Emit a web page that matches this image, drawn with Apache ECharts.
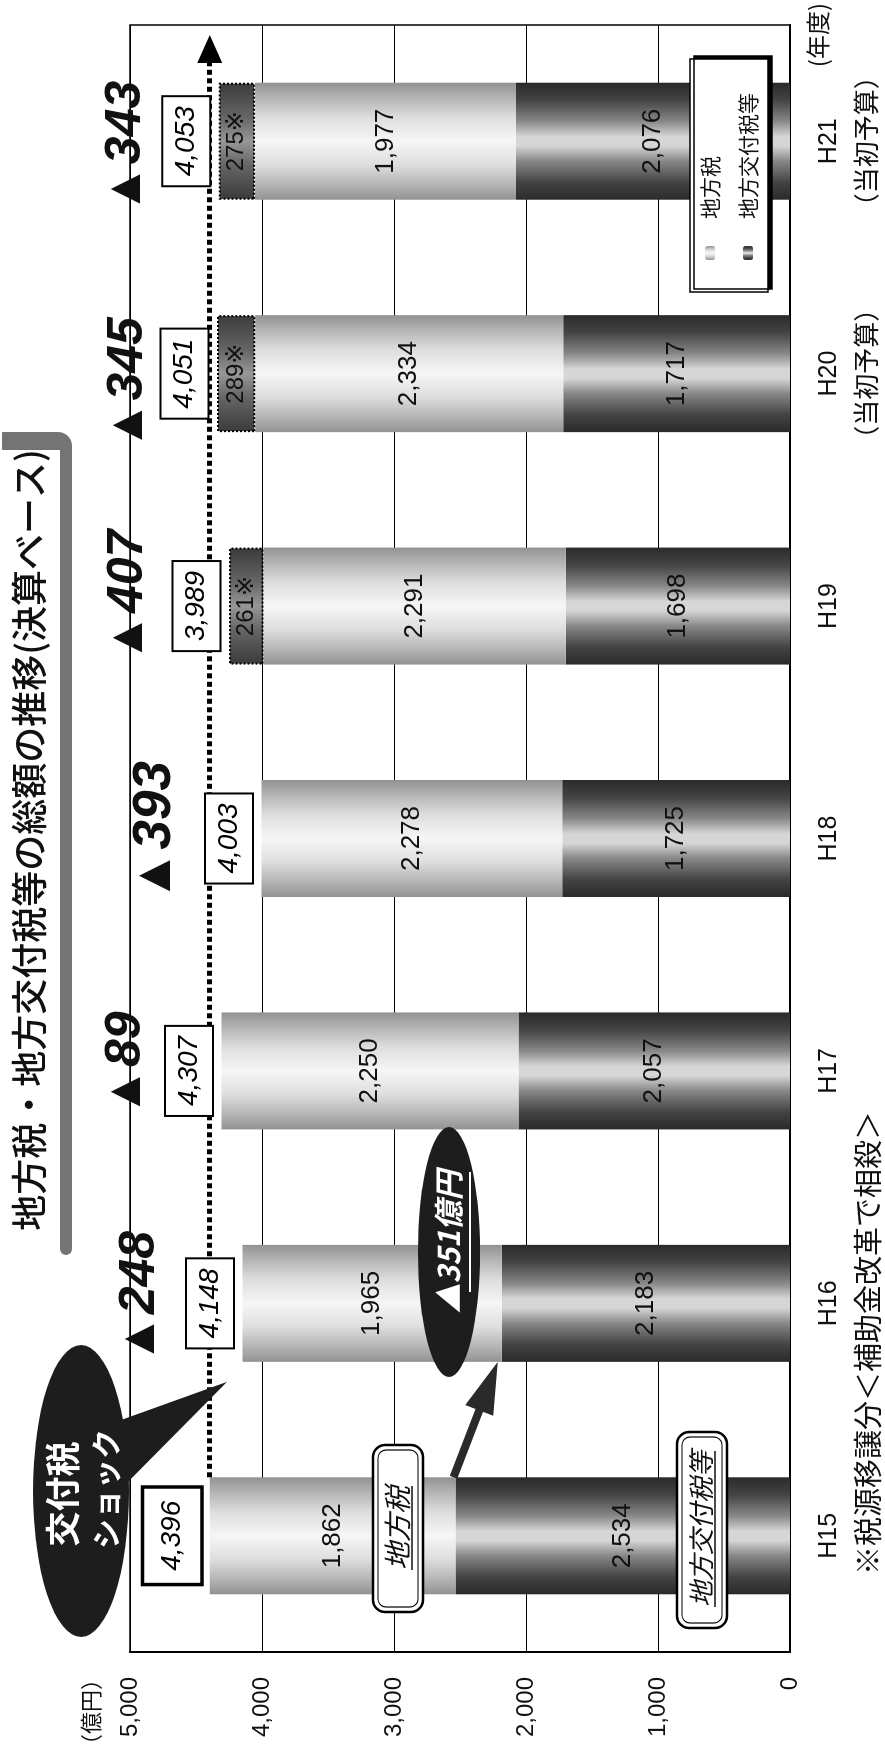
<!DOCTYPE html>
<html>
<head>
<meta charset="utf-8">
<script src="https://cdn.jsdelivr.net/npm/echarts@6/dist/echarts.min.js"></script>
<style>
  html, body { margin: 0; padding: 0; width: 885px; height: 1762px; overflow: hidden; background: #fff; }
  /* the chart is laid out landscape and turned a quarter turn counter-clockwise */
  #chart { position: absolute; left: 0; top: 0; width: 1762px; height: 885px;
           transform-origin: 0 0; transform: translateY(1762px) rotate(-90deg); }
</style>
</head>
<body>
<div id="chart"></div>
<script>
// 地方税・地方交付税等の総額の推移（億円）
const years      = ['H15', 'H16', 'H17', 'H18', 'H19', 'H20', 'H21'];
const yearNotes  = ['', '', '', '', '', '（当初予算）', '（当初予算）'];
const kofuzei    = [2534, 2183, 2057, 1725, 1698, 1717, 2076];   // 地方交付税等
const chihozei   = [1862, 1965, 2250, 2278, 2291, 2334, 1977];   // 地方税
const ijobun     = [null, null, null, null, 261, 289, 275];      // ※税源移譲分
const totals     = [4396, 4148, 4307, 4003, 3989, 4051, 4053];   // 地方税＋地方交付税等
const decrease   = [null, 248, 89, 393, 407, 345, 343];          // H15比の減少額
const shockCut   = 351;                                          // 交付税ショック

const JP  = '"Noto Sans CJK JP", "Noto Sans", sans-serif';
const NUM = '"Liberation Sans", Arial, "DejaVu Sans", sans-serif';
const fmt = n => String(n).replace(/\B(?=(\d{3})+(?!\d))/g, ',');

const band = stops => ({
  type: 'linear', x: 0, y: 0, x2: 1, y2: 0,
  colorStops: stops.map(([offset, color]) => ({ offset, color }))
});
const lightFill = band([[0, '#929292'], [0.12, '#b2b2b2'], [0.3, '#dedede'], [0.5, '#f6f6f6'],
                        [0.7, '#dedede'], [0.88, '#b2b2b2'], [1, '#929292']]);
const darkFill  = band([[0, '#2a2a2a'], [0.15, '#444'], [0.33, '#888'], [0.46, '#d6d6d6'],
                        [0.54, '#d6d6d6'], [0.67, '#888'], [0.85, '#444'], [1, '#2a2a2a']]);
const transFill = band([[0, '#3a3a3a'], [0.3, '#666'], [0.5, '#979797'], [0.7, '#666'], [1, '#3a3a3a']]);

const BAR_W = 117;
const GRID = { left: 110, right: 25, top: 130, bottom: 95 };
const segLabel = { show: true, position: 'inside', fontSize: 26, fontFamily: NUM, color: '#111',
                   formatter: p => fmt(p.value) };

const chart = echarts.init(document.getElementById('chart'), null, { renderer: 'canvas' });

const stackTop = years.map((_, i) => kofuzei[i] + chihozei[i] + (ijobun[i] || 0));

chart.setOption({
  animation: false,
  backgroundColor: '#fff',
  grid: Object.assign({ show: true, borderColor: '#000', borderWidth: 1.5, backgroundColor: '#fff' }, GRID),
  legend: {
    data: ['地方税', '地方交付税等'],
    orient: 'vertical', left: 1470, top: 690,
    padding: [8, 34, 8, 32], itemGap: 14, itemWidth: 14, itemHeight: 10,
    backgroundColor: '#fff', borderColor: '#000', borderWidth: 1.5,
    shadowColor: '#000', shadowOffsetX: 3, shadowOffsetY: 4, shadowBlur: 0,
    textStyle: { fontSize: 21, lineHeight: 24, fontFamily: JP, color: '#111', padding: [0, 0, 0, 22] }
  },
  xAxis: {
    type: 'category', data: years,
    axisLine: { lineStyle: { color: '#000', width: 2 } },
    axisTick: { inside: true, length: 7, lineStyle: { color: '#000', width: 1.5 } },
    axisLabel: {
      interval: 0, margin: 21, fontFamily: NUM,
      formatter: (v, i) => yearNotes[i] ? `{a|${v}}\n{b|${yearNotes[i]}}` : `{a|${v}}`,
      rich: {
        a: { fontSize: 25, lineHeight: 36, fontFamily: NUM, color: '#111' },
        b: { fontSize: 26, lineHeight: 38, fontFamily: JP, color: '#111' }
      }
    }
  },
  yAxis: {
    type: 'value', min: 0, max: 5000, interval: 1000,
    axisLine: { show: true, lineStyle: { color: '#000', width: 2 } },
    axisTick: { show: false },
    splitLine: { lineStyle: { color: '#000', width: 1 } },
    axisLabel: { margin: 25, fontSize: 24, fontFamily: NUM, color: '#111', formatter: v => fmt(v) }
  },
  series: [
    { name: '地方交付税等', type: 'bar', stack: 'total', barWidth: BAR_W, data: kofuzei,
      itemStyle: { color: darkFill }, label: segLabel },
    { name: '地方税', type: 'bar', stack: 'total', barWidth: BAR_W, data: chihozei,
      itemStyle: { color: lightFill }, label: segLabel },
    { name: '※税源移譲分', type: 'bar', stack: 'total', barWidth: BAR_W, data: ijobun,
      itemStyle: { color: transFill, borderColor: '#000', borderWidth: 2, borderType: 'dotted' },
      label: { show: true, position: 'inside', fontSize: 24, fontFamily: NUM, color: '#111',
               formatter: p => p.value + '※' } },
    // boxed totals above each stack
    { name: '合計', type: 'scatter', z: 5, silent: true, symbolSize: 1,
      itemStyle: { color: 'rgba(0,0,0,0)', opacity: 1 },
      data: years.map((_, i) => ({
        value: [i, stackTop[i]],
        label: i === 0 ? { borderWidth: 3.5, padding: [14, 12] } : {}
      })),
      label: { show: true, position: 'top', distance: 9, opacity: 1,
               formatter: p => fmt(totals[p.dataIndex]),
               fontSize: 28, fontStyle: 'italic', fontFamily: NUM, color: '#000', lineHeight: 28,
               backgroundColor: '#fff', borderColor: '#000', borderWidth: 2, padding: [9, 9] } }
  ]
});

function drawNotes() {
  const P = (i, v) => chart.convertToPixel({ gridIndex: 0 }, [i, v]);
  const half = BAR_W / 2;
  const g = [];

  // reference line at the H15 total, ending in an arrowhead near the right frame
  const base = P(0, totals[0]);
  const tipX = chart.getWidth() - GRID.right - 10;
  chart.setOption({ series: [{
    name: '地方交付税等',
    markLine: {
      silent: true, animation: false,
      symbol: ['none', 'triangle'], symbolSize: [25, 28],
      label: { show: false },
      lineStyle: { color: '#000', width: 5, type: [5, 3.5], cap: 'butt', opacity: 1 },
      data: [[{ x: base[0] + half, y: base[1] }, { x: tipX - 14, y: base[1] }]]
    }
  }] });

  // title with its bracket
  g.push({ type: 'rect', z: 10, shape: { x: 507, y: 60, width: 810, height: 12, r: [6, 0, 0, 6] },
           style: { fill: '#747474' } });
  g.push({ type: 'rect', z: 10, shape: { x: 1312, y: 2, width: 18, height: 70, r: [1, 1, 14, 0] },
           style: { fill: '#747474' } });
  g.push({ type: 'text', z: 10, x: 922, y: 29,
           style: { text: '地方税・地方交付税等の総額の推移(決算ベース)', fontSize: 36, fontFamily: JP,
                    fontWeight: 500, fill: '#111', align: 'center', verticalAlign: 'middle' } });

  // unit captions and footnote
  g.push({ type: 'text', z: 10, x: 6, y: 91,
           style: { text: '（億円）', fontSize: 22, fontFamily: JP, fill: '#111', align: 'left', verticalAlign: 'middle' } });
  g.push({ type: 'text', z: 10, x: 1759, y: 818,
           style: { text: '(年度)', fontSize: 24, fontFamily: JP, fill: '#111', align: 'right', verticalAlign: 'middle' } });
  g.push({ type: 'text', z: 10, x: 187, y: 868,
           style: { text: '※税源移譲分＜補助金改革で相殺＞', fontSize: 29, fontFamily: JP, fill: '#111',
                    align: 'left', verticalAlign: 'middle' } });

  // decrease against H15
  const topLine = P(0, 5000)[1];
  const dropDx = [0, 6, 7, 7, 10, -10, -6];
  const dropDy = [0, 10, -4, 25, -2, -2, -4];
  decrease.forEach((d, i) => {
    if (d == null) return;
    g.push({ type: 'text', z: 12, x: P(i, 0)[0] + dropDx[i], y: topLine + dropDy[i],
             style: { text: '▲' + d, fontSize: d === 393 ? 53 : 50, fontWeight: 'bold', fontStyle: 'italic',
                      fontFamily: NUM, fill: '#111', align: 'center', verticalAlign: 'middle' } });
  });

  // 交付税ショック callout
  const tail = P(1, 4265);
  g.push({ type: 'polygon', z: 20,
           shape: { points: [[268, 116], [338, 110], [tail[0] - half - 20, tail[1]]] },
           style: { fill: '#1d1d1d' } });
  g.push({ type: 'circle', z: 20, x: 271, y: 81, scaleX: 146, scaleY: 48,
           shape: { cx: 0, cy: 0, r: 1 }, style: { fill: '#1d1d1d' } });
  g.push({ type: 'text', z: 21, x: 268, y: 63,
           style: { text: '交付税', fontSize: 35, fontWeight: 'bold', fontFamily: JP, fill: '#fff',
                    align: 'center', verticalAlign: 'middle' } });
  g.push({ type: 'text', z: 21, x: 273, y: 106,
           style: { text: 'ショック', fontSize: 30, fontWeight: 'bold', fontFamily: JP, fill: '#fff',
                    align: 'center', verticalAlign: 'middle' } });

  // ▲351億円 callout
  g.push({ type: 'circle', z: 20, x: 510, y: 449, scaleX: 125, scaleY: 31,
           shape: { cx: 0, cy: 0, r: 1 }, style: { fill: '#1d1d1d' } });
  g.push({ type: 'text', z: 21, x: 520, y: 449,
           style: { text: '▲' + shockCut + '億円', fontSize: 30, fontWeight: 'bold', fontStyle: 'italic',
                    fontFamily: JP, fill: '#fff', align: 'center', verticalAlign: 'middle' } });
  g.push({ type: 'line', z: 21, shape: { x1: 470, y1: 470, x2: 590, y2: 470 },
           style: { stroke: '#fff', lineWidth: 2 } });

  // arrow from the H15 boundary to the H16 boundary
  const a0 = P(0, kofuzei[0]); a0[0] += half; a0[1] -= 2;
  const a1 = P(1, kofuzei[1]); a1[0] -= half; a1[1] -= 4;
  const dx = a1[0] - a0[0], dy = a1[1] - a0[1], len = Math.hypot(dx, dy);
  const ux = dx / len, uy = dy / len, nx = -uy, ny = ux;
  const headL = 52, headW = 15, shaftW = 4;
  const bx = a1[0] - ux * headL, by = a1[1] - uy * headL;
  g.push({ type: 'polygon', z: 15, style: { fill: '#2a2a2a' },
           shape: { points: [
             [a0[0] + nx * shaftW, a0[1] + ny * shaftW],
             [bx + nx * shaftW, by + ny * shaftW],
             [bx + nx * headW, by + ny * headW],
             [a1[0], a1[1]],
             [bx - nx * headW, by - ny * headW],
             [bx - nx * shaftW, by - ny * shaftW],
             [a0[0] - nx * shaftW, a0[1] - ny * shaftW]
           ] } });

  // framed series captions
  const tag = (x, y, w, h, text, size, tx, tw) => {
    g.push({ type: 'rect', z: 15, shape: { x, y, width: w, height: h, r: 12 },
             style: { fill: '#fff', stroke: '#000', lineWidth: 2.5 } });
    g.push({ type: 'rect', z: 15, shape: { x: x + 5, y: y + 5, width: w - 10, height: h - 10, r: 8 },
             style: { fill: 'none', stroke: '#000', lineWidth: 1.2 } });
    g.push({ type: 'text', z: 16, x: tx, y: y + h / 2 - 1,
             style: { text, fontSize: size, fontStyle: 'italic', fontFamily: JP, fill: '#111',
                      align: 'center', verticalAlign: 'middle' } });
    g.push({ type: 'line', z: 16, shape: { x1: tx - tw / 2, y1: y + h / 2 + size / 2, x2: tx + tw / 2, y2: y + h / 2 + size / 2 },
             style: { stroke: '#111', lineWidth: 1.5 } });
  };
  tag(150, 373, 167, 50, '地方税', 28, 234, 84);
  tag(134, 677, 196, 50, '地方交付税等', 26, 233, 156);

  chart.setOption({ graphic: { elements: g } });
}
drawNotes();
</script>
</body>
</html>
